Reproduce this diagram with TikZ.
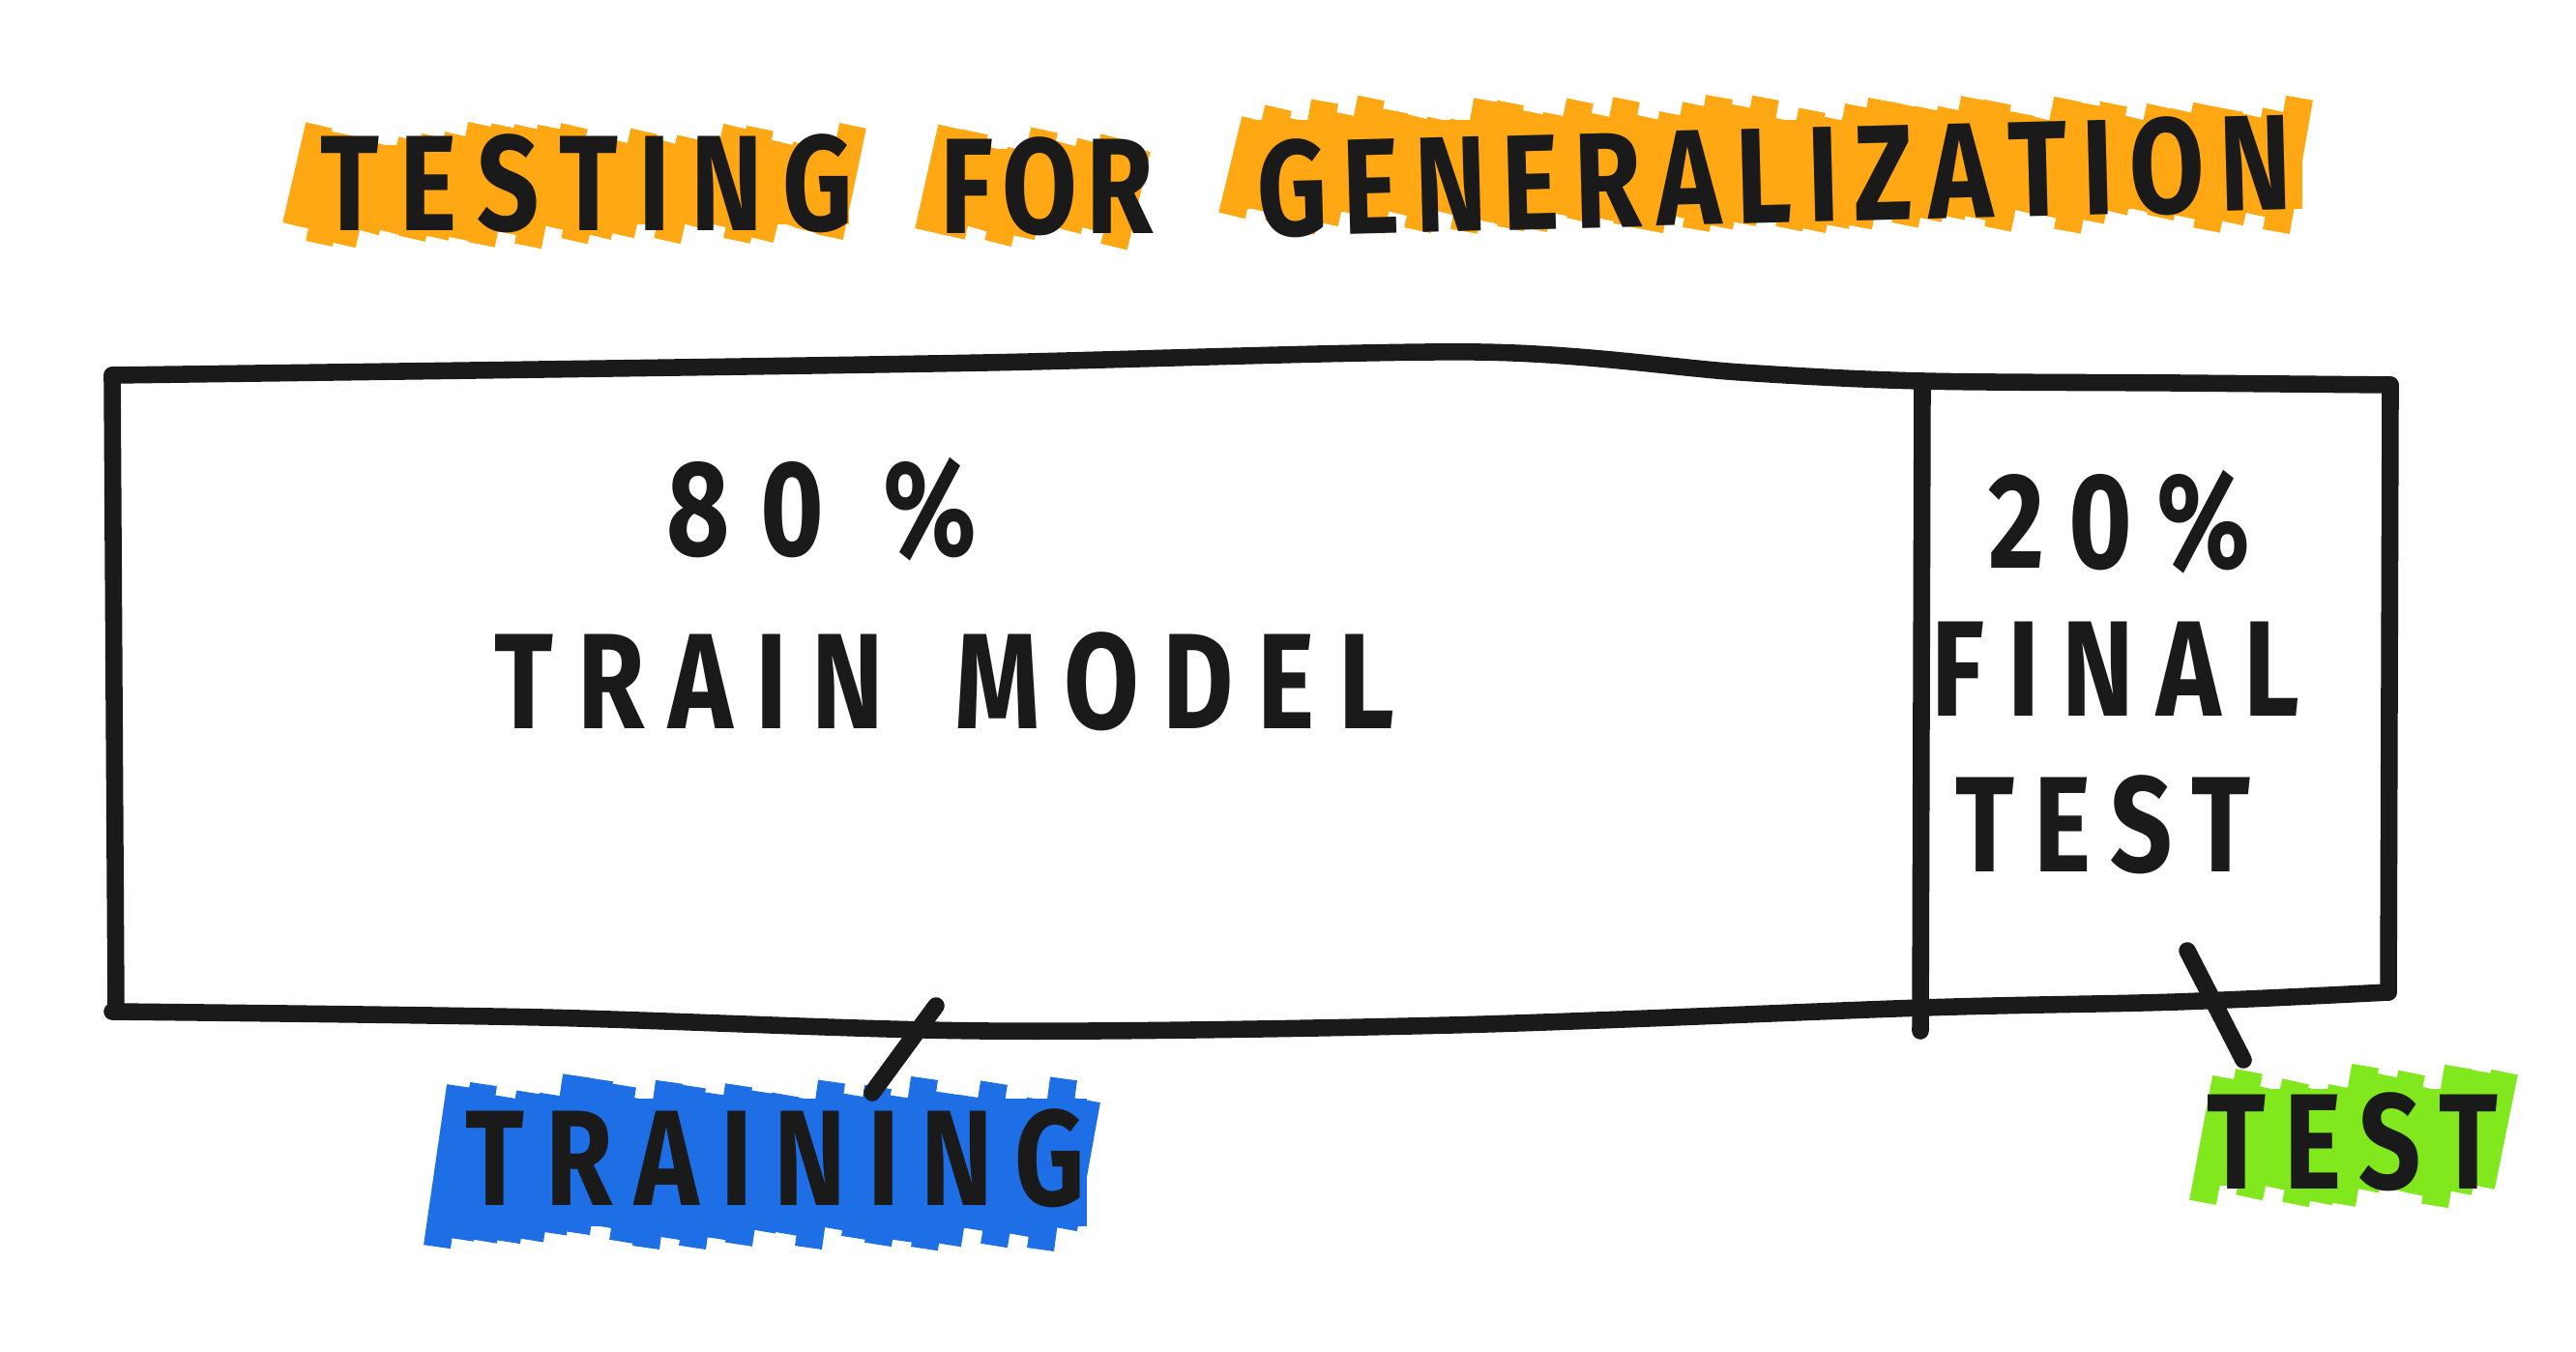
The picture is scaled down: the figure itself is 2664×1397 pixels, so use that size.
\documentclass[tikz,border=0pt]{standalone}
\usepackage{fontspec}
\usepackage{graphicx}
\setmainfont{Fira Sans}
\definecolor{hlorange}{HTML}{FFA814}
\definecolor{hlblue}{HTML}{1E6FE6}
\definecolor{hlgreen}{HTML}{80E81C}
\definecolor{inkc}{HTML}{1A1A1A}
\newcommand{\handtext}[2]{\scalebox{1}[1.25]{\makebox[#1]{#2}}}
\newcommand{\markerfill}[5]{%
  \fill[#1] ({#2+14},{#3+24}) rectangle ({#4-14},{#5-24});
  \pgfmathsetmacro{\mfa}{#2+12}\pgfmathsetmacro{\mfb}{#2+36}\pgfmathsetmacro{\mfc}{#4-12}
  \foreach \xx in {\mfa,\mfb,...,\mfc}{
    \pgfmathsetmacro{\ja}{rnd*26}\pgfmathsetmacro{\jb}{rnd*26}
    \draw[#1, line width=8pt, line cap=butt] (\xx-12,#5-\ja) -- (\xx+12,#3+\jb);
  }}
\begin{document}
\begin{tikzpicture}[x=0.01cm,y=-0.01cm,
  ink/.style={line width=5pt, line cap=round, line join=round, draw=inkc},
  hand/.style={font=\fontsize{32}{40}\selectfont\bfseries, text=inkc, inner sep=0pt},
  areabox/.style={draw=none, inner sep=0pt, outer sep=0pt, anchor=north west}]
\pgfmathsetseed{7}
\useasboundingbox (0,0) rectangle (2664,1397);
\fill[white] (0,0) rectangle (2664,1397);

% title highlights
\markerfill{hlorange}{306}{126}{892}{256}
\markerfill{hlorange}{960}{130}{1189}{256}
\markerfill{hlorange}{1274}{100}{2395}{240}
\node[hand] (t1) at (607,190) {\handtext{5.5cm}{T\hfill E\hfill S\hfill T\hfill I\hfill N\hfill G}};
\node[hand] (t2) at (1083,193) {\handtext{2.2cm}{F\hfill O\hfill R}};
\node[hand, rotate=1.5] (t3) at (1835,182) {\handtext{10.7cm}{G\hfill E\hfill N\hfill E\hfill R\hfill A\hfill L\hfill I\hfill Z\hfill A\hfill T\hfill I\hfill O\hfill N}};

% boxes (areas) and hand-drawn outline
\node[areabox, minimum width=18.72cm, minimum height=6.58cm] (train) at (116,388) {};
\node[areabox, minimum width=4.84cm, minimum height=6.58cm] (test) at (1988,388) {};
\draw[ink] plot[smooth, tension=0.5] coordinates {(116,388) (560,382) (1019,375) (1529,364) (1800,385) (1988,394) (2250,396) (2472,398)};
\draw[ink] plot[smooth, tension=0.5] coordinates {(116,1046) (560,1052) (1019,1066) (1500,1060) (1988,1042) (2250,1036) (2470,1026)};
\draw[ink] (116,388) -- (120,1046);
\draw[ink] (1988,394) -- (1986,1066);
\draw[ink] (2472,398) -- (2470,1026);

% box texts
\node[hand] (p80) at (850,527) {\handtext{3.2cm}{8\hfill 0\hfill\hfill \%}};
\node[hand] (tm) at (977,705) {\handtext{9.3cm}{T\hfill R\hfill A\hfill I\hfill N\hfill\hfill\hfill M\hfill O\hfill D\hfill E\hfill L}};
\node[hand] (p20) at (2192,540) {\handtext{2.7cm}{2\hfill 0\hfill \%}};
\node[hand] (fin) at (2188,692) {\handtext{3.8cm}{F\hfill I\hfill N\hfill A\hfill L}};
\node[hand] (tst) at (2175,853) {\handtext{3.05cm}{T\hfill E\hfill S\hfill T}};

% labels with highlights
\markerfill{hlblue}{452}{1112}{1138}{1292}
\node[hand] (trl) at (802,1198) {\handtext{6.4cm}{T\hfill R\hfill A\hfill I\hfill N\hfill I\hfill N\hfill G}};
\markerfill{hlgreen}{2278}{1102}{2592}{1250}
\node[hand] (tel) at (2433,1181) {\handtext{3.0cm}{T\hfill E\hfill S\hfill T}};

% connectors
\coordinate (c1a) at (968,1040);
\coordinate (c1b) at (902,1130);
\coordinate (c2a) at (2262,983);
\coordinate (c2b) at (2320,1096);
\draw[ink] (c1a) -- (c1b);
\draw[ink] (c2a) -- (c2b);
\end{tikzpicture}
\end{document}
